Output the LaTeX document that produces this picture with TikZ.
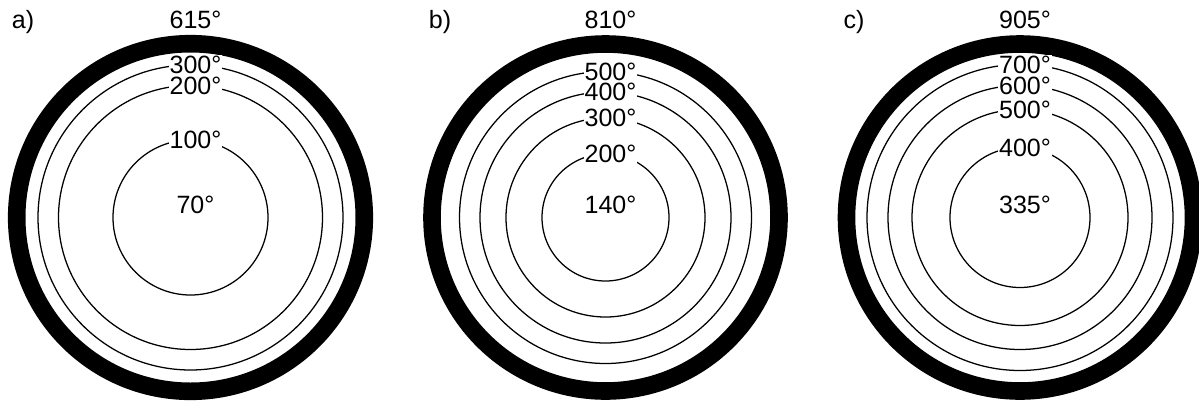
\documentclass[tikz,border=0pt]{standalone}
\usepackage{fontspec}
\setmainfont{Liberation Sans}
\begin{document}
\begin{tikzpicture}[x=0.25mm,y=-0.25mm,
  ring/.style={line width=4.4mm},
  iso/.style={line width=0.9pt},
  deg/.style={fill=white,inner sep=0.6pt,font=\fontsize{17.8pt}{20pt}\selectfont},
  ttl/.style={anchor=base,inner sep=0pt,font=\fontsize{17.8pt}{20pt}\selectfont}]
\useasboundingbox (0,0) rectangle (1199,401);
% panel a
\coordinate (ca) at (190.5,217.5);
\draw[ring] (ca) circle (173.8);
\draw[iso] (ca) circle (152.5);
\draw[iso] (ca) circle (132);
\draw[iso] (ca) circle (77.5);
\node[ttl] (la) at (23,28) {a)};
\node[ttl] (ta) at (195.5,28) {615°};
\node[deg] (a300) at (195.5,65) {300°};
\node[deg] (a200) at (195.5,85.5) {200°};
\node[deg] (a100) at (195.5,140) {100°};
\node[ttl] (a70) at (195.5,213) {70°};
% panel b
\coordinate (cb) at (605.5,217.5);
\draw[ring] (cb) circle (173.5);
\draw[iso] (cb) circle (146);
\draw[iso] (cb) circle (125.5);
\draw[iso] (cb) circle (99.5);
\draw[iso] (cb) circle (63.5);
\node[ttl] (lb) at (440,28) {b)};
\node[ttl] (tb) at (610.5,28) {810°};
\node[deg] (b500) at (610.5,71.5) {500°};
\node[deg] (b400) at (610.5,92) {400°};
\node[deg] (b300) at (610.5,118) {300°};
\node[deg] (b200) at (610.5,154) {200°};
\node[ttl] (b140) at (610.5,213) {140°};
% panel c
\coordinate (cc) at (1020,217.5);
\draw[ring] (cc) circle (173.5);
\draw[iso] (cc) circle (153);
\draw[iso] (cc) circle (132);
\draw[iso] (cc) circle (108);
\draw[iso] (cc) circle (70);
\node[ttl] (lc) at (854,28) {c)};
\node[ttl] (tc) at (1025,28) {905°};
\node[deg] (c700) at (1025,64.5) {700°};
\node[deg] (c600) at (1025,85.5) {600°};
\node[deg] (c500) at (1025,109.5) {500°};
\node[deg] (c400) at (1025,147.5) {400°};
\node[ttl] (c335) at (1025,213) {335°};
\end{tikzpicture}
\end{document}
